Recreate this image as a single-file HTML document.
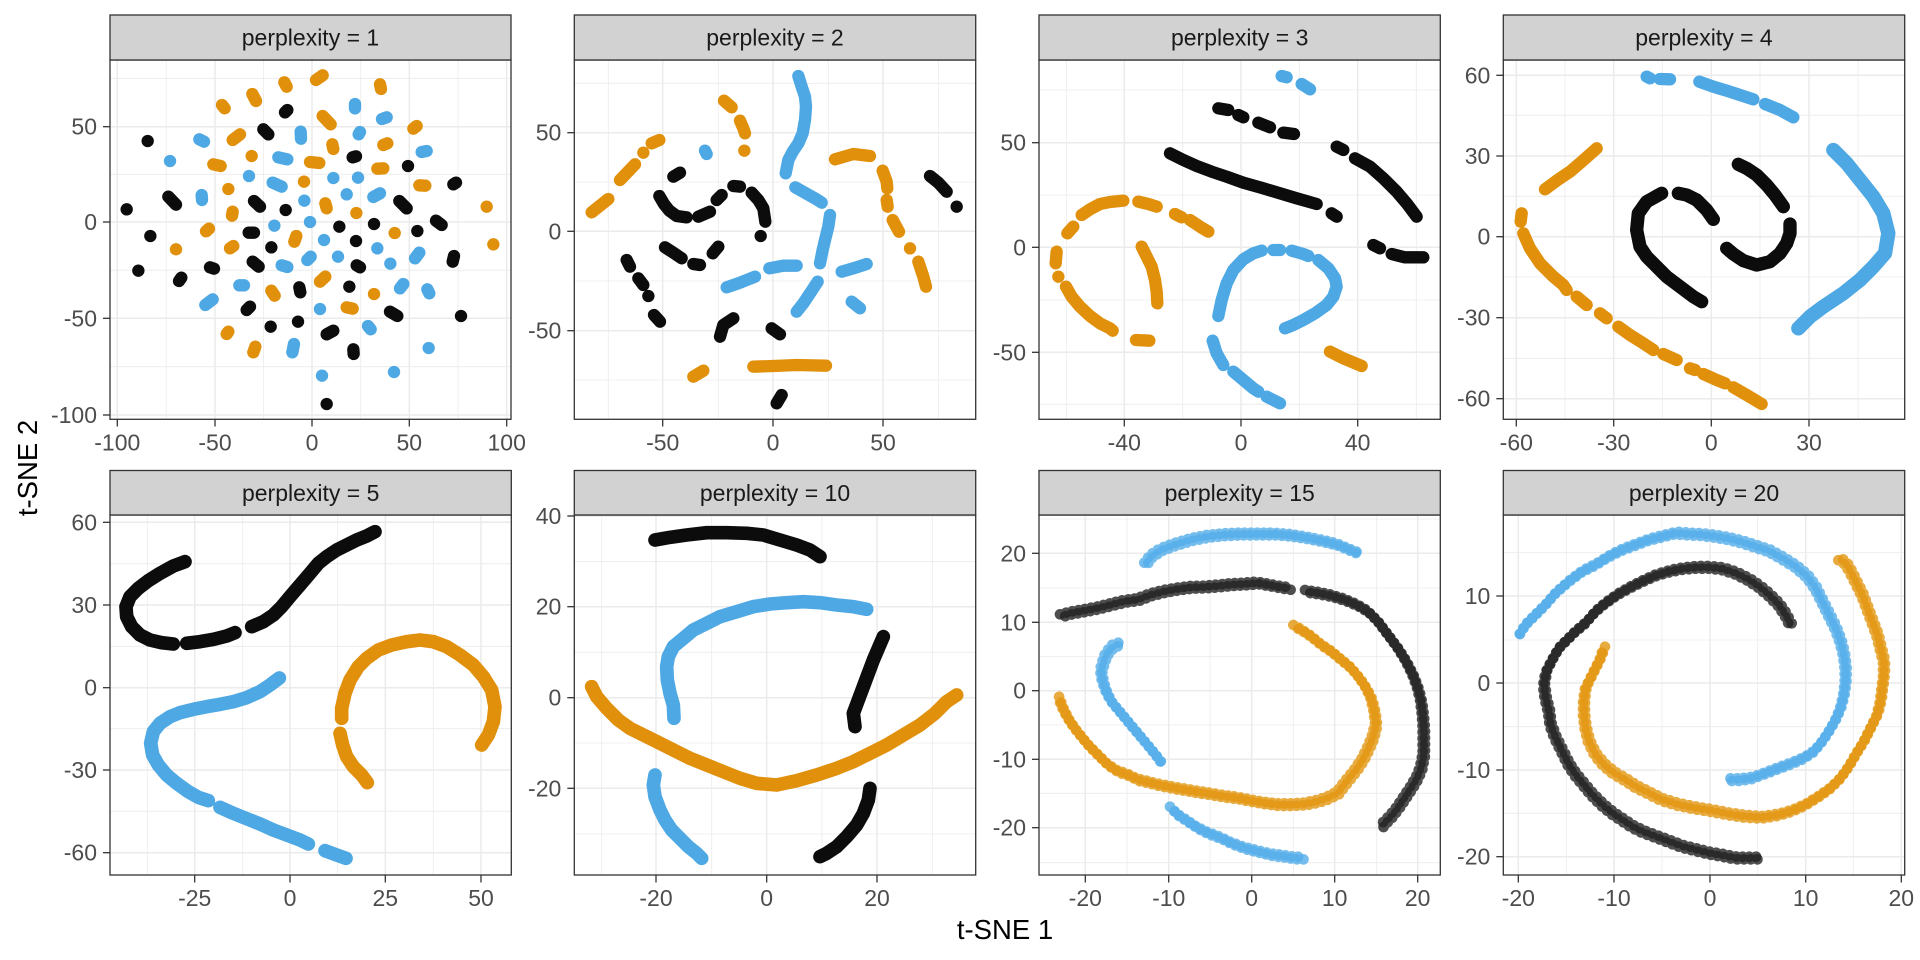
<!DOCTYPE html>
<html><head><meta charset="utf-8"><style>
html,body{margin:0;padding:0;background:#fff;}
svg{display:block;font-family:"Liberation Sans",Arial,sans-serif;}
.mj{stroke:#EBEBEB;stroke-width:1.5;}
.mn{stroke:#EBEBEB;stroke-width:0.8;}
.bd{fill:none;stroke:#333;stroke-width:1.3;}
.st{fill:#D2D2D2;stroke:#333;stroke-width:1.3;}
.stx{font-size:23px;fill:#1A1A1A;text-anchor:middle;}
.yl{font-size:23px;fill:#4D4D4D;text-anchor:end;}
.xl{font-size:23px;fill:#4D4D4D;text-anchor:middle;}
.tk{stroke:#333;stroke-width:1.3;}
.pt path{fill:none;stroke-linecap:round;stroke-linejoin:round;}
.k{stroke:#0c0c0c;} .o{stroke:#E1900B;} .b{stroke:#4EA8E4;}
.dt path{fill:none;stroke-linecap:round;stroke-linejoin:round;stroke-opacity:0.8;}
.dt .k{stroke:#222;} .dt .o{stroke:#E2960F;} .dt .b{stroke:#52ACE8;}
</style></head><body>
<svg width="1920" height="960" viewBox="0 0 1920 960" xmlns="http://www.w3.org/2000/svg">
<rect width="1920" height="960" fill="#fff"/>

<!-- ================= PANEL 1 ================= -->
<g>
<g class="mn"><line x1="166.2" y1="60" x2="166.2" y2="419.3"/><line x1="263.5" y1="60" x2="263.5" y2="419.3"/><line x1="360.7" y1="60" x2="360.7" y2="419.3"/><line x1="458" y1="60" x2="458" y2="419.3"/>
<line x1="110" y1="78.3" x2="511" y2="78.3"/><line x1="110" y1="174.3" x2="511" y2="174.3"/><line x1="110" y1="270.2" x2="511" y2="270.2"/><line x1="110" y1="366.7" x2="511" y2="366.7"/></g>
<g class="mj"><line x1="117.3" y1="60" x2="117.3" y2="419.3"/><line x1="215" y1="60" x2="215" y2="419.3"/><line x1="312" y1="60" x2="312" y2="419.3"/><line x1="409.3" y1="60" x2="409.3" y2="419.3"/><line x1="506.7" y1="60" x2="506.7" y2="419.3"/>
<line x1="110" y1="126.7" x2="511" y2="126.7"/><line x1="110" y1="222" x2="511" y2="222"/><line x1="110" y1="318.3" x2="511" y2="318.3"/><line x1="110" y1="415" x2="511" y2="415"/></g>
<g class="pt" transform="translate(100,40) scale(0.333333)" stroke-width="37">
<path class="o" d="M648 120L668 106M553 127L560 140M840 133L843 147M457 162L468 183M366 195L374 205M668 228L692 253M940 266L950 258M398 300L420 283M697 313L700 327M850 315L862 310M455 348l.1 0M340 373L362 378M630 366L658 369M832 386L850 385M612 425l.1 0M958 436L976 437M385 447l.1 0M676 490L680 505M769 519l.1 0M396 527L398 515M1160 500l.1 0M318 574L327 566M884 579l.1 0M583 605L589 588M1180 613l.1 0M228 628l.1 0M390 625L400 618M660 725L676 710M514 752L524 767M822 762l.1 0M740 802L758 806M380 882L385 875M460 937L466 920"/>
<path class="k" d="M555 217L562 210M143 303l.1 0M490 268L505 283M758 352L768 349M924 378l.1 0M1060 433L1068 428M80 508l.1 0M205 470L228 494M462 483L480 500M557 510l.1 0M898 483L920 505M1008 542L1025 555M718 560l.1 0M822 552l.1 0M952 573l.1 0M446 578L462 578M151 588l.1 0M768 603l.1 0M514 622l.1 0M1058 665L1062 648M458 665L476 680M330 682L342 686M770 676L780 682M115 692l.1 0M237 723L244 713M598 742L601 757M748 740l.1 0M440 810L450 800M870 815L892 828M1083 828l.1 0M512 860l.1 0M594 845l.1 0M680 883L700 872M760 928L761 942M680 1092l.1 0"/>
<path class="b" d="M765 192L765 205M846 237L860 232M298 298L312 305M602 275L603 296M776 283L780 276M210 363l.1 0M535 352L562 358M965 336L980 333M447 408l.1 0M700 414l.1 0M774 413l.1 0M518 428L545 440M740 463l.1 0M820 471L840 460M305 465L306 480M613 482l.1 0M630 546l.1 0M523 557l.1 0M672 600l.1 0M832 625l.1 0M945 655L958 638M622 660L632 650M714 650l.1 0M545 676L562 681M871 671l.1 0M900 745L910 732M418 736L432 736M982 748L988 760M316 795L338 778M660 807l.1 0M804 858L812 868M577 937L582 912M986 924l.1 0M666 1007l.1 0M882 996l.1 0"/>
</g>
<rect class="bd" x="110" y="60" width="401" height="359.3"/>
<rect class="st" x="110" y="15" width="401" height="45"/>
<text class="stx" x="310.5" y="45.5">perplexity = 1</text>
<g class="tk"><line x1="103" y1="126.7" x2="110" y2="126.7"/><line x1="103" y1="222" x2="110" y2="222"/><line x1="103" y1="318.3" x2="110" y2="318.3"/><line x1="103" y1="415" x2="110" y2="415"/>
<line x1="117.3" y1="419.3" x2="117.3" y2="426.5"/><line x1="215" y1="419.3" x2="215" y2="426.5"/><line x1="312" y1="419.3" x2="312" y2="426.5"/><line x1="409.3" y1="419.3" x2="409.3" y2="426.5"/><line x1="506.7" y1="419.3" x2="506.7" y2="426.5"/></g>
<text class="yl" x="97" y="134.7">50</text><text class="yl" x="97" y="230">0</text><text class="yl" x="97" y="326.3">-50</text><text class="yl" x="97" y="423">-100</text>
<text class="xl" x="117.3" y="450.5">-100</text><text class="xl" x="215" y="450.5">-50</text><text class="xl" x="312" y="450.5">0</text><text class="xl" x="409.3" y="450.5">50</text><text class="xl" x="506.7" y="450.5">100</text>
</g>

<!-- ================= PANEL 2 ================= -->
<g>
<g class="mn"><line x1="608.3" y1="60" x2="608.3" y2="419.3"/><line x1="718.3" y1="60" x2="718.3" y2="419.3"/><line x1="828.3" y1="60" x2="828.3" y2="419.3"/><line x1="938.3" y1="60" x2="938.3" y2="419.3"/>
<line x1="574.3" y1="83.3" x2="975.7" y2="83.3"/><line x1="574.3" y1="182" x2="975.7" y2="182"/><line x1="574.3" y1="281" x2="975.7" y2="281"/><line x1="574.3" y1="380" x2="975.7" y2="380"/></g>
<g class="mj"><line x1="662.7" y1="60" x2="662.7" y2="419.3"/><line x1="773" y1="60" x2="773" y2="419.3"/><line x1="883" y1="60" x2="883" y2="419.3"/>
<line x1="574.3" y1="132.7" x2="975.7" y2="132.7"/><line x1="574.3" y1="231.3" x2="975.7" y2="231.3"/><line x1="574.3" y1="330.7" x2="975.7" y2="330.7"/></g>
<g class="pt" transform="translate(520,0) scale(0.333333)" stroke-width="37">
<path class="b" d="M835 228L845 260L855 290L858 320L855 360L848 400L835 430L818 455L805 480L797 520M555 452L560 462M826 562L858 580L890 598L905 608M930 645L925 680L915 720L908 750L900 790M620 862L660 848L705 830M748 805L790 797L830 797M830 935L850 910L870 880L893 845M965 815L1000 805L1040 792M995 905L1020 925"/>
<path class="o" d="M215 637L265 597M300 540L345 493M370 458l.1 0M395 430L418 420M612 302L635 322M660 362L670 385L675 400M673 452l.1 0M945 478L1000 462L1050 468M1088 512L1100 545L1102 565M1100 600L1103 620M1118 660L1137 695M1170 745l.1 0M1195 785L1210 830L1218 860M520 1130L550 1112M700 1100L760 1098L830 1095L918 1097"/>
<path class="k" d="M460 530L480 518M418 588L432 612L448 632L470 648L500 652M535 650L570 635M590 600L605 585M640 558L660 560M695 578L715 600L730 625L736 665M722 708l.1 0M435 742L460 758L485 775M520 792L540 795M578 760L595 740M320 780L330 800M355 835L370 855M385 888l.1 0M402 945L420 965M600 1010L610 975L640 955M755 985L780 1003M770 1210L785 1185M1230 528L1255 548L1280 575M1310 620l.1 0"/>
</g>
<rect class="bd" x="574.3" y="60" width="401.4" height="359.3"/>
<rect class="st" x="574.3" y="15" width="401.4" height="45"/>
<text class="stx" x="775" y="45.5">perplexity = 2</text>
<g class="tk"><line x1="567.3" y1="132.7" x2="574.3" y2="132.7"/><line x1="567.3" y1="231.3" x2="574.3" y2="231.3"/><line x1="567.3" y1="330.7" x2="574.3" y2="330.7"/>
<line x1="662.7" y1="419.3" x2="662.7" y2="426.5"/><line x1="773" y1="419.3" x2="773" y2="426.5"/><line x1="883" y1="419.3" x2="883" y2="426.5"/></g>
<text class="yl" x="561.3" y="140.7">50</text><text class="yl" x="561.3" y="239.3">0</text><text class="yl" x="561.3" y="338.7">-50</text>
<text class="xl" x="662.7" y="450.5">-50</text><text class="xl" x="773" y="450.5">0</text><text class="xl" x="883" y="450.5">50</text>
</g>

<!-- ================= PANEL 3 ================= -->
<g>
<g class="mn"><line x1="1066.3" y1="60" x2="1066.3" y2="419.3"/><line x1="1182.7" y1="60" x2="1182.7" y2="419.3"/><line x1="1299.3" y1="60" x2="1299.3" y2="419.3"/><line x1="1416.3" y1="60" x2="1416.3" y2="419.3"/>
<line x1="1039" y1="90" x2="1440.3" y2="90"/><line x1="1039" y1="195" x2="1440.3" y2="195"/><line x1="1039" y1="300" x2="1440.3" y2="300"/><line x1="1039" y1="404.3" x2="1440.3" y2="404.3"/></g>
<g class="mj"><line x1="1124.3" y1="60" x2="1124.3" y2="419.3"/><line x1="1241" y1="60" x2="1241" y2="419.3"/><line x1="1357.7" y1="60" x2="1357.7" y2="419.3"/>
<line x1="1039" y1="142.7" x2="1440.3" y2="142.7"/><line x1="1039" y1="247.3" x2="1440.3" y2="247.3"/><line x1="1039" y1="352.3" x2="1440.3" y2="352.3"/></g>
<g class="pt" transform="translate(990,0) scale(0.333333)" stroke-width="37">
<path class="b" d="M875 228L890 232M935 252L960 268M685 948L695 900L710 850L730 810L760 778L790 760L815 752M850 750L870 750M905 752L940 762L955 768M985 780L1015 805L1035 835L1040 860L1030 890L1010 915L975 940L940 960L910 975L885 985M668 1022L680 1060L700 1095M730 1115L760 1140L790 1165L805 1175M830 1190L870 1210"/>
<path class="o" d="M232 700L250 680M275 645L300 628L330 612L360 606L400 602M445 605L475 612L500 620M555 642L575 652M600 660L630 680L655 695M200 755L197 790M205 830l.1 0M228 860L245 890L270 920L300 948L330 970L360 985L368 992M455 740L470 770L485 800L495 840L500 875L502 910M438 1020L478 1022M1020 1055L1060 1075L1115 1098"/>
<path class="k" d="M685 325L715 330M745 345L760 352M805 368L840 382M880 398L912 402M540 460L580 480L620 498L665 515L710 530L760 548L820 565L870 580L920 595L980 612M1025 640L1040 650M1040 440L1060 450M1095 475L1140 500L1180 535L1220 575L1250 610L1280 650M1150 735L1170 745M1205 762L1245 772L1300 772"/>
</g>
<rect class="bd" x="1039" y="60" width="401.3" height="359.3"/>
<rect class="st" x="1039" y="15" width="401.3" height="45"/>
<text class="stx" x="1239.7" y="45.5">perplexity = 3</text>
<g class="tk"><line x1="1032" y1="142.7" x2="1039" y2="142.7"/><line x1="1032" y1="247.3" x2="1039" y2="247.3"/><line x1="1032" y1="352.3" x2="1039" y2="352.3"/>
<line x1="1124.3" y1="419.3" x2="1124.3" y2="426.5"/><line x1="1241" y1="419.3" x2="1241" y2="426.5"/><line x1="1357.7" y1="419.3" x2="1357.7" y2="426.5"/></g>
<text class="yl" x="1026" y="150.7">50</text><text class="yl" x="1026" y="255.3">0</text><text class="yl" x="1026" y="360.3">-50</text>
<text class="xl" x="1124.3" y="450.5">-40</text><text class="xl" x="1241" y="450.5">0</text><text class="xl" x="1357.7" y="450.5">40</text>
</g>

<!-- ================= PANEL 4 ================= -->
<g>
<g class="mn"><line x1="1565" y1="60" x2="1565" y2="419.3"/><line x1="1662.3" y1="60" x2="1662.3" y2="419.3"/><line x1="1760" y1="60" x2="1760" y2="419.3"/><line x1="1858" y1="60" x2="1858" y2="419.3"/>
<line x1="1503.3" y1="115.3" x2="1904.7" y2="115.3"/><line x1="1503.3" y1="196.3" x2="1904.7" y2="196.3"/><line x1="1503.3" y1="277" x2="1904.7" y2="277"/><line x1="1503.3" y1="358.3" x2="1904.7" y2="358.3"/></g>
<g class="mj"><line x1="1516.3" y1="60" x2="1516.3" y2="419.3"/><line x1="1613.7" y1="60" x2="1613.7" y2="419.3"/><line x1="1711.3" y1="60" x2="1711.3" y2="419.3"/><line x1="1809" y1="60" x2="1809" y2="419.3"/>
<line x1="1503.3" y1="75.3" x2="1904.7" y2="75.3"/><line x1="1503.3" y1="156" x2="1904.7" y2="156"/><line x1="1503.3" y1="236.7" x2="1904.7" y2="236.7"/><line x1="1503.3" y1="317.7" x2="1904.7" y2="317.7"/><line x1="1503.3" y1="398.7" x2="1904.7" y2="398.7"/></g>
<g class="pt" transform="translate(1450,0) scale(0.333333)" stroke-width="37">
<path class="b" d="M590 230L600 235M630 237L660 238M748 245L790 260L830 272L870 285L910 298M945 312L990 330L1030 352"/>
<path class="b" stroke-width="43" d="M1150 450L1190 490L1230 540L1270 590L1300 640L1315 700L1305 760L1270 800L1230 840L1180 880L1120 920L1080 950L1045 985"/>
<path class="o" d="M285 568L320 542L360 515L395 485L440 445M215 640L212 665M220 700L240 745L270 790L310 830L340 855L350 870M380 890L410 915M450 940L470 955M505 980L540 1005L580 1030L610 1050M640 1062L680 1080M720 1105L735 1110M760 1122L800 1140L825 1150M850 1162L890 1185L935 1212"/>
<path class="k" stroke-width="40" d="M635 580L590 605L565 640L560 690L570 740L590 770L620 800L650 830L690 860L730 890L755 905M685 580L710 585L740 600L770 630L790 658M865 493L890 505L920 525L950 555L975 585L1000 620M1020 672L1020 700L1010 730L990 760L960 785L920 795L880 782L850 762L830 745"/>
</g>
<rect class="bd" x="1503.3" y="60" width="401.4" height="359.3"/>
<rect class="st" x="1503.3" y="15" width="401.4" height="45"/>
<text class="stx" x="1704" y="45.5">perplexity = 4</text>
<g class="tk"><line x1="1496.3" y1="75.3" x2="1503.3" y2="75.3"/><line x1="1496.3" y1="156" x2="1503.3" y2="156"/><line x1="1496.3" y1="236.7" x2="1503.3" y2="236.7"/><line x1="1496.3" y1="317.7" x2="1503.3" y2="317.7"/><line x1="1496.3" y1="398.7" x2="1503.3" y2="398.7"/>
<line x1="1516.3" y1="419.3" x2="1516.3" y2="426.5"/><line x1="1613.7" y1="419.3" x2="1613.7" y2="426.5"/><line x1="1711.3" y1="419.3" x2="1711.3" y2="426.5"/><line x1="1809" y1="419.3" x2="1809" y2="426.5"/></g>
<text class="yl" x="1490.3" y="83.3">60</text><text class="yl" x="1490.3" y="164">30</text><text class="yl" x="1490.3" y="244.7">0</text><text class="yl" x="1490.3" y="325.7">-30</text><text class="yl" x="1490.3" y="406.7">-60</text>
<text class="xl" x="1516.3" y="450.5">-60</text><text class="xl" x="1613.7" y="450.5">-30</text><text class="xl" x="1711.3" y="450.5">0</text><text class="xl" x="1809" y="450.5">30</text>
</g>

<!-- ================= PANEL 5 ================= -->
<g>
<g class="mn"><line x1="147.3" y1="515" x2="147.3" y2="875"/><line x1="242.7" y1="515" x2="242.7" y2="875"/><line x1="337.7" y1="515" x2="337.7" y2="875"/><line x1="433.3" y1="515" x2="433.3" y2="875"/>
<line x1="110" y1="563.7" x2="511.3" y2="563.7"/><line x1="110" y1="646.3" x2="511.3" y2="646.3"/><line x1="110" y1="728.7" x2="511.3" y2="728.7"/><line x1="110" y1="811.3" x2="511.3" y2="811.3"/></g>
<g class="mj"><line x1="194.7" y1="515" x2="194.7" y2="875"/><line x1="290" y1="515" x2="290" y2="875"/><line x1="385.3" y1="515" x2="385.3" y2="875"/><line x1="481" y1="515" x2="481" y2="875"/>
<line x1="110" y1="522.3" x2="511.3" y2="522.3"/><line x1="110" y1="605" x2="511.3" y2="605"/><line x1="110" y1="687.7" x2="511.3" y2="687.7"/><line x1="110" y1="770" x2="511.3" y2="770"/><line x1="110" y1="852.7" x2="511.3" y2="852.7"/></g>
<g class="pt" transform="translate(60,460) scale(0.333333)" stroke-width="41">
<path class="k" d="M375 305L340 318L300 340L265 362L235 385L210 410L198 440L200 470L215 500L240 525L270 540L305 548L340 552M380 550L420 545L460 538L500 528L525 518M575 500L610 485L640 465L665 440L690 410L720 375L750 340L775 310L800 290L830 270L860 255L890 240L920 228L945 215"/>
<path class="b" d="M658 654L630 675L600 695L560 713L520 725L480 733L440 740L400 748L360 758L330 770L300 790L280 815L272 850L278 885L295 915L320 945L350 970L385 995L415 1012L445 1022M480 1042L520 1060L560 1076L600 1092L640 1110L680 1125L720 1140L745 1152M795 1172L830 1185L858 1195"/>
<path class="o" d="M845 775L845 745L855 700L870 660L895 620L920 595L955 570L995 555L1040 545L1080 540L1120 545L1160 560L1200 585L1240 615L1270 650L1295 690L1305 740L1300 785L1285 825L1265 855M840 820L848 855L860 890L880 920L905 945L922 968"/>
</g>
<rect class="bd" x="110" y="515" width="401.3" height="360"/>
<rect class="st" x="110" y="470.5" width="401.3" height="44.5"/>
<text class="stx" x="310.7" y="501">perplexity = 5</text>
<g class="tk"><line x1="103" y1="522.3" x2="110" y2="522.3"/><line x1="103" y1="605" x2="110" y2="605"/><line x1="103" y1="687.7" x2="110" y2="687.7"/><line x1="103" y1="770" x2="110" y2="770"/><line x1="103" y1="852.7" x2="110" y2="852.7"/>
<line x1="194.7" y1="875" x2="194.7" y2="882.5"/><line x1="290" y1="875" x2="290" y2="882.5"/><line x1="385.3" y1="875" x2="385.3" y2="882.5"/><line x1="481" y1="875" x2="481" y2="882.5"/></g>
<text class="yl" x="97" y="530.3">60</text><text class="yl" x="97" y="613">30</text><text class="yl" x="97" y="695.7">0</text><text class="yl" x="97" y="778">-30</text><text class="yl" x="97" y="860.7">-60</text>
<text class="xl" x="194.7" y="906">-25</text><text class="xl" x="290" y="906">0</text><text class="xl" x="385.3" y="906">25</text><text class="xl" x="481" y="906">50</text>
</g>

<!-- ================= PANEL 6 ================= -->
<g>
<g class="mn"><line x1="601.7" y1="515" x2="601.7" y2="875"/><line x1="711.7" y1="515" x2="711.7" y2="875"/><line x1="822" y1="515" x2="822" y2="875"/><line x1="932.3" y1="515" x2="932.3" y2="875"/>
<line x1="574.3" y1="561.7" x2="975.7" y2="561.7"/><line x1="574.3" y1="652.3" x2="975.7" y2="652.3"/><line x1="574.3" y1="743" x2="975.7" y2="743"/><line x1="574.3" y1="834" x2="975.7" y2="834"/></g>
<g class="mj"><line x1="656" y1="515" x2="656" y2="875"/><line x1="766.7" y1="515" x2="766.7" y2="875"/><line x1="877" y1="515" x2="877" y2="875"/>
<line x1="574.3" y1="516" x2="975.7" y2="516"/><line x1="574.3" y1="606.7" x2="975.7" y2="606.7"/><line x1="574.3" y1="697.7" x2="975.7" y2="697.7"/><line x1="574.3" y1="788.3" x2="975.7" y2="788.3"/></g>
<g class="pt" transform="translate(520,460) scale(0.333333)" stroke-width="41">
<path class="k" d="M405 240L450 232L500 225L560 218L620 218L680 220L730 225L780 240L830 255L870 270L900 290M1090 530L1075 565L1060 600L1045 640L1030 680L1015 720L1000 760L1005 800M1050 985L1045 1020L1030 1060L1010 1095L980 1130L950 1160L920 1180L900 1190"/>
<path class="b" d="M1040 448L1000 440L950 435L900 428L850 425L800 428L750 432L700 440L650 455L600 470L560 490L520 510L490 535L460 560L445 590L440 620L442 660L450 700L460 735L462 775M405 945L400 975L405 1010L420 1050L435 1080L455 1110L480 1135L505 1160L530 1180L545 1195"/>
<path class="o" d="M215 680L230 710L260 745L295 780L330 805L370 825L410 845L460 870L510 895L560 915L610 935L660 955L710 970L770 975L830 962L890 945L950 925L1000 905L1050 880L1100 855L1150 825L1200 795L1245 760L1280 725L1310 705"/>
</g>
<rect class="bd" x="574.3" y="515" width="401.4" height="360"/>
<rect class="st" x="574.3" y="470.5" width="401.4" height="44.5"/>
<text class="stx" x="775" y="501">perplexity = 10</text>
<g class="tk"><line x1="567.3" y1="516" x2="574.3" y2="516"/><line x1="567.3" y1="606.7" x2="574.3" y2="606.7"/><line x1="567.3" y1="697.7" x2="574.3" y2="697.7"/><line x1="567.3" y1="788.3" x2="574.3" y2="788.3"/>
<line x1="656" y1="875" x2="656" y2="882.5"/><line x1="766.7" y1="875" x2="766.7" y2="882.5"/><line x1="877" y1="875" x2="877" y2="882.5"/></g>
<text class="yl" x="561.3" y="524">40</text><text class="yl" x="561.3" y="614.7">20</text><text class="yl" x="561.3" y="705.7">0</text><text class="yl" x="561.3" y="796.3">-20</text>
<text class="xl" x="656" y="906">-20</text><text class="xl" x="766.7" y="906">0</text><text class="xl" x="877" y="906">20</text>
</g>

<!-- ================= PANEL 7 ================= -->
<g>
<g class="mn"><line x1="1127" y1="515" x2="1127" y2="875"/><line x1="1210" y1="515" x2="1210" y2="875"/><line x1="1293.3" y1="515" x2="1293.3" y2="875"/><line x1="1376.7" y1="515" x2="1376.7" y2="875"/>
<line x1="1039" y1="519" x2="1440.3" y2="519"/><line x1="1039" y1="588" x2="1440.3" y2="588"/><line x1="1039" y1="656.7" x2="1440.3" y2="656.7"/><line x1="1039" y1="725" x2="1440.3" y2="725"/><line x1="1039" y1="793.3" x2="1440.3" y2="793.3"/><line x1="1039" y1="862.7" x2="1440.3" y2="862.7"/></g>
<g class="mj"><line x1="1085.3" y1="515" x2="1085.3" y2="875"/><line x1="1168.7" y1="515" x2="1168.7" y2="875"/><line x1="1251.7" y1="515" x2="1251.7" y2="875"/><line x1="1334.7" y1="515" x2="1334.7" y2="875"/><line x1="1417.7" y1="515" x2="1417.7" y2="875"/>
<line x1="1039" y1="553.3" x2="1440.3" y2="553.3"/><line x1="1039" y1="622.3" x2="1440.3" y2="622.3"/><line x1="1039" y1="690.7" x2="1440.3" y2="690.7"/><line x1="1039" y1="759.3" x2="1440.3" y2="759.3"/><line x1="1039" y1="827.7" x2="1440.3" y2="827.7"/></g>
<g transform="translate(990,460) scale(0.333333)">
<g id="p7" class="dt" stroke-width="32" stroke-dasharray="0.1 19">
<path class="b" d="M463 308L480 285L510 265L550 250L600 235L650 225L700 220L750 218L800 218L850 218L900 222L950 230L1000 240L1040 250L1075 265L1100 275M385 548L365 555L345 580L335 610L330 630L335 660L345 690L360 720L385 750L410 780L435 810L460 840L485 870L505 895L513 908M540 1040L560 1060L590 1080L620 1100L650 1115L690 1130L720 1145L760 1160L800 1170L840 1180L880 1185L910 1190L940 1190"/>
<path class="k" d="M210 463L240 455L280 448L320 440L360 430L400 420L440 415L480 400L520 390L560 383L600 378L640 377L680 374L720 370L760 368L800 365L840 372L870 378L900 382M945 390L980 395L1020 403L1060 415L1100 432L1130 450L1160 480L1190 520L1220 560L1245 600L1265 640L1280 680L1290 720L1295 760L1298 800L1298 840L1298 880L1290 920L1278 950L1260 980L1240 1010L1220 1040L1200 1065L1180 1085L1172 1095"/>
<path class="o" d="M910 495L930 505L960 525L990 550L1020 570L1050 595L1080 620L1105 650L1125 680L1140 710L1150 750L1155 790L1145 830L1130 865L1115 895L1095 925L1075 950L1055 975L1040 995L1010 1010L980 1020L940 1028L900 1030L860 1030L820 1025L780 1018L740 1010L700 1005L660 998L620 992L580 985L540 978L500 970L470 962L440 955L410 940L380 930L350 910L320 880L295 855L270 825L250 800L230 770L215 740L205 715L210 705"/>
</g>
<use href="#p7" transform="translate(7,8)" stroke-dashoffset="10"/>
</g>
<rect class="bd" x="1039" y="515" width="401.3" height="360"/>
<rect class="st" x="1039" y="470.5" width="401.3" height="44.5"/>
<text class="stx" x="1239.7" y="501">perplexity = 15</text>
<g class="tk"><line x1="1032" y1="553.3" x2="1039" y2="553.3"/><line x1="1032" y1="622.3" x2="1039" y2="622.3"/><line x1="1032" y1="690.7" x2="1039" y2="690.7"/><line x1="1032" y1="759.3" x2="1039" y2="759.3"/><line x1="1032" y1="827.7" x2="1039" y2="827.7"/>
<line x1="1085.3" y1="875" x2="1085.3" y2="882.5"/><line x1="1168.7" y1="875" x2="1168.7" y2="882.5"/><line x1="1251.7" y1="875" x2="1251.7" y2="882.5"/><line x1="1334.7" y1="875" x2="1334.7" y2="882.5"/><line x1="1417.7" y1="875" x2="1417.7" y2="882.5"/></g>
<text class="yl" x="1026" y="561.3">20</text><text class="yl" x="1026" y="630.3">10</text><text class="yl" x="1026" y="698.7">0</text><text class="yl" x="1026" y="767.3">-10</text><text class="yl" x="1026" y="835.7">-20</text>
<text class="xl" x="1085.3" y="906">-20</text><text class="xl" x="1168.7" y="906">-10</text><text class="xl" x="1251.7" y="906">0</text><text class="xl" x="1334.7" y="906">10</text><text class="xl" x="1417.7" y="906">20</text>
</g>

<!-- ================= PANEL 8 ================= -->
<g>
<g class="mn"><line x1="1566.3" y1="515" x2="1566.3" y2="875"/><line x1="1662" y1="515" x2="1662" y2="875"/><line x1="1757.7" y1="515" x2="1757.7" y2="875"/><line x1="1853.3" y1="515" x2="1853.3" y2="875"/>
<line x1="1503.3" y1="552.7" x2="1904.7" y2="552.7"/><line x1="1503.3" y1="640" x2="1904.7" y2="640"/><line x1="1503.3" y1="726.7" x2="1904.7" y2="726.7"/><line x1="1503.3" y1="813.3" x2="1904.7" y2="813.3"/></g>
<g class="mj"><line x1="1518.3" y1="515" x2="1518.3" y2="875"/><line x1="1614" y1="515" x2="1614" y2="875"/><line x1="1710" y1="515" x2="1710" y2="875"/><line x1="1805.7" y1="515" x2="1805.7" y2="875"/><line x1="1901.3" y1="515" x2="1901.3" y2="875"/>
<line x1="1503.3" y1="596" x2="1904.7" y2="596"/><line x1="1503.3" y1="683" x2="1904.7" y2="683"/><line x1="1503.3" y1="770" x2="1904.7" y2="770"/><line x1="1503.3" y1="856.7" x2="1904.7" y2="856.7"/></g>
<g transform="translate(1450,460) scale(0.333333)">
<g id="p8" class="dt" stroke-width="32" stroke-dasharray="0.1 20">
<path class="b" d="M210 522L230 490L260 460L290 430L320 395L360 360L400 330L440 310L480 285L520 265L560 250L600 235L640 225L680 215L720 218L760 220L800 225L840 232L880 242L920 255L960 268L1000 290L1040 315L1075 345L1100 380L1120 420L1140 460L1160 500L1175 540L1185 580L1190 620L1190 660L1185 700L1175 740L1160 775L1140 810L1120 840L1095 870L1065 890L1030 905L990 920L950 935L910 950L870 955L840 955"/>
<path class="k" d="M1025 490L1010 460L990 430L960 400L930 375L900 355L860 335L820 322L780 318L740 318L700 322L660 330L620 342L580 360L540 380L505 400L470 425L440 450L410 485L380 510L355 535L330 560L310 595L292 630L285 670L290 710L300 750L305 790L320 830L340 870L360 910L380 940L405 970L430 1000L460 1030L490 1055L520 1075L550 1095L580 1110L620 1125L660 1140L700 1155L740 1165L780 1175L820 1182L860 1190L900 1190L935 1190"/>
<path class="o" d="M465 560L455 590L440 620L425 650L410 680L405 720L405 760L410 800L420 840L440 880L465 910L495 935L530 955L560 975L600 995L640 1015L690 1030L740 1040L790 1048L840 1058L890 1065L940 1068L990 1060L1030 1048L1070 1030L1110 1005L1145 980L1175 950L1200 915L1220 880L1245 840L1265 800L1285 760L1295 720L1300 680L1305 640L1305 600L1295 560L1285 520L1270 480L1255 440L1240 400L1225 370L1205 330L1190 305L1170 292"/>
</g>
<use href="#p8" transform="translate(-6,8)" stroke-dashoffset="10"/>
</g>
<rect class="bd" x="1503.3" y="515" width="401.4" height="360"/>
<rect class="st" x="1503.3" y="470.5" width="401.4" height="44.5"/>
<text class="stx" x="1704" y="501">perplexity = 20</text>
<g class="tk"><line x1="1496.3" y1="596" x2="1503.3" y2="596"/><line x1="1496.3" y1="683" x2="1503.3" y2="683"/><line x1="1496.3" y1="770" x2="1503.3" y2="770"/><line x1="1496.3" y1="856.7" x2="1503.3" y2="856.7"/>
<line x1="1518.3" y1="875" x2="1518.3" y2="882.5"/><line x1="1614" y1="875" x2="1614" y2="882.5"/><line x1="1710" y1="875" x2="1710" y2="882.5"/><line x1="1805.7" y1="875" x2="1805.7" y2="882.5"/><line x1="1901.3" y1="875" x2="1901.3" y2="882.5"/></g>
<text class="yl" x="1490.3" y="604">10</text><text class="yl" x="1490.3" y="691">0</text><text class="yl" x="1490.3" y="778">-10</text><text class="yl" x="1490.3" y="864.7">-20</text>
<text class="xl" x="1518.3" y="906">-20</text><text class="xl" x="1614" y="906">-10</text><text class="xl" x="1710" y="906">0</text><text class="xl" x="1805.7" y="906">10</text><text class="xl" x="1901.3" y="906">20</text>
</g>

<!-- axis titles -->
<text x="1005" y="939" font-size="27.5" fill="#000" text-anchor="middle">t-SNE 1</text>
<text transform="translate(37,468) rotate(-90)" font-size="27.5" fill="#000" text-anchor="middle">t-SNE 2</text>
</svg>
</body></html>
